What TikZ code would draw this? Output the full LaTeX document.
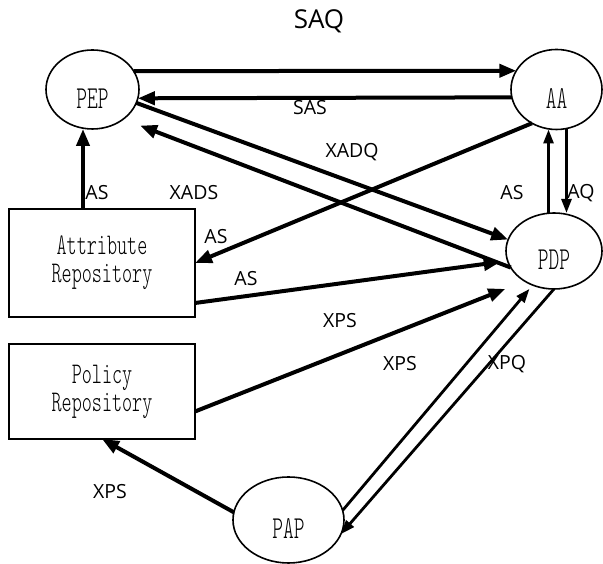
\documentclass[tikz,border=0pt]{standalone}
\usepackage{fontspec}
\usetikzlibrary{positioning,arrows.meta,shapes.geometric}
\newfontfamily\lblfont{Open Sans}
\newfontfamily\slimmono{lmmonolt10-regular.otf}[FakeStretch=0.64]
\tikzset{
  ellip/.style={draw, ellipse, line width=1.6pt, inner sep=0pt, outer sep=0pt, text height=38pt, text depth=0.5pt, font=\slimmono\fontsize{32}{32}\selectfont},
  repo/.style={draw, rectangle, line width=1.6pt, outer sep=0pt, align=center, minimum width=186pt, font=\slimmono\fontsize{30}{28}\selectfont},
  sig/.style={-{Triangle[length=17pt,width=13pt]}, line width=4pt},
  thinsig/.style={-{Triangle[length=14pt,width=10pt]}, line width=2.8pt},
  lbl/.style={inner sep=0pt, font=\lblfont\fontsize{19.5}{19.5}\selectfont},
}

\begin{document}
\begin{tikzpicture}[x=1pt, y=1pt]
    \useasboundingbox (0,0) rectangle (603,564);
    \node[ellip, minimum width=93pt, minimum height=79pt] (pep) at (92.5,474.5) {PEP};
    \node[ellip, minimum width=91pt, minimum height=80pt, right=372pt of pep] (aa) {AA};
    \node[ellip, minimum width=96pt, minimum height=76pt] (pdp) at (554,313) {PDP};
    \node[ellip, minimum width=111pt, minimum height=86pt] (pap) at (288.5,44) {PAP};
    \node[repo, minimum height=108pt] (attr) at (102,301) {Attribute\\Repository};
    \node[repo, minimum height=95pt, below=27pt of attr] (pol) {Policy\\Repository};

    \draw[sig] (pep.24) -- (aa.155);
    \draw[sig] (aa.190) -- (pep.349);
    \draw[sig] (pep.343) -- (pdp.166);
    \draw[sig, shorten >=18pt] (pdp.201) -- (pep.316);
    \draw[sig] (aa.234) -- (attr.east);
    \draw[sig] ([xshift=-19pt]attr.north) -- ([xshift=-19pt]attr.north |- pep.south);
    \draw[sig, shorten >=7pt] ([yshift=-40pt]attr.east) -- (pdp.192);
    \draw[sig, shorten >=21pt] ([yshift=-20pt]pol.east) -- (pdp.226);
    \draw[thinsig] ([xshift=-8pt]aa.south |- pdp.north) -- ([xshift=-8pt]aa.south);
    \draw[thinsig] ([xshift=10pt]aa.south) -- ([xshift=10pt]aa.south |- pdp.north);
    \draw[thinsig, shorten >=5pt] (pap.10) -- (pdp.238);
    \draw[thinsig] (pdp.south) -- (pap.345);
    \draw[sig] (pap.172) -- (pol.south);

    \node[lbl, font=\lblfont\fontsize{26}{26}\selectfont] (l-saq) at (319,543) {SAQ};
    \node[lbl] (l-sas) at (310,456) {SAS};
    \node[lbl] (l-xadq) at (352,412) {XADQ};
    \node[lbl] (l-as1) at (97,371) {AS};
    \node[lbl] (l-xads) at (194,371) {XADS};
    \node[lbl] (l-as2) at (512,371) {AS};
    \node[lbl] (l-aq) at (581,371) {AQ};
    \node[lbl] (l-as3) at (216,327) {AS};
    \node[lbl] (l-as4) at (246,285) {AS};
    \node[lbl] (l-xps1) at (340,243) {XPS};
    \node[lbl] (l-xps2) at (400,200) {XPS};
    \node[lbl] (l-xpq) at (507,200) {XPQ};
    \node[lbl] (l-xps3) at (110,72) {XPS};
\end{tikzpicture}
\end{document}
